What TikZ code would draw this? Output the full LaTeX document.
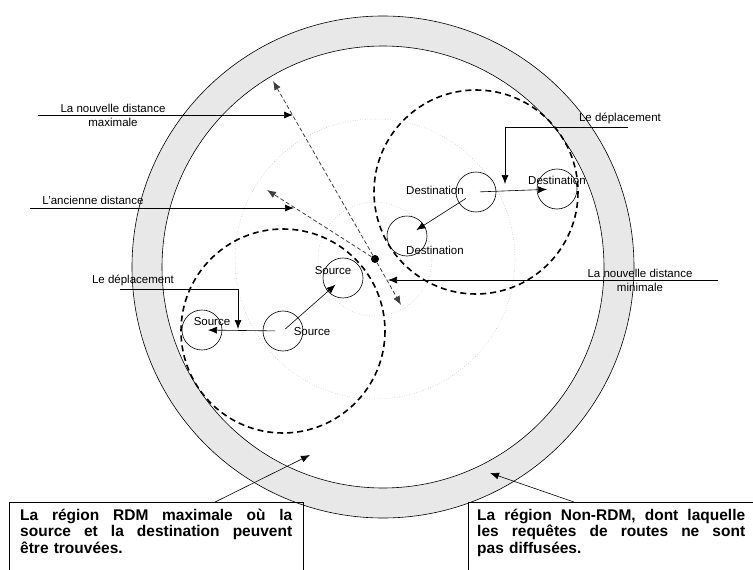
\documentclass[tikz,border=0pt]{standalone}
\usepackage{fontspec}
\setmainfont{Liberation Sans}
\usetikzlibrary{arrows.meta, calc}

\begin{document}
\begin{tikzpicture}[x=1pt, y=-1pt, >={Latex[length=9pt, width=7pt]},
        lbl/.style={font=\fontsize{11.5}{14}\selectfont, align=center, inner sep=0pt},
        site/.style={circle, draw, line width=0.6pt, minimum size=40pt, inner sep=0pt},
        dot/.style={circle, fill=black, minimum size=8pt, inner sep=0pt},
        reach/.style={line width=1.6pt, dash pattern=on 6pt off 4pt},
        halo/.style={draw=gray!60, line width=0.5pt, dotted},
        gap/.style={draw=black!75, line width=0.8pt, dash pattern=on 4pt off 2.5pt},
        note/.style={anchor=north west, text width=272pt, align=left, inner xsep=11pt, inner ysep=6.5pt,
            font=\fontsize{15.5}{16.7}\selectfont\bfseries}]
        \useasboundingbox (0,0) rectangle (753,570);

        \coordinate (hub) at (383,267);
        \draw[fill=gray!18, line width=0.6pt, even odd rule] (hub) circle (251) (hub) circle (221);

        \node (mid) [dot] at (375,259) {};
        \draw[halo] (mid) circle (57);
        \draw[halo] (mid) circle (140);

        \node (src) [site] at (283,331) {};
        \node (srcA) [site] at (202,330) {};
        \node (srcB) [site] at (343,278) {};
        \node (dst) [site] at (476,192) {};
        \node (dstA) [site] at (407,236) {};
        \node (dstB) [site] at (557,189) {};

        \draw[reach] (src) circle (102);
        \draw[reach] (dst) circle (102);

        \node (srcAlbl) [lbl] at (212,322) {Source};
        \node (srclbl) [lbl] at (312,332) {Source};
        \node (srcBlbl) [lbl] at (333,271) {Source};
        \node (dstlbl) [lbl] at (435,190) {Destination};
        \node (dstAlbl) [lbl] at (435,250) {Destination};
        \node (dstBlbl) [lbl] at (557,180) {Destination};

        \draw[->, line width=0.6pt, shorten <=3pt, shorten >=10pt] (src.center) -- (srcB.center);
        \draw[->, line width=0.6pt, shorten <=8pt, shorten >=6pt] (src.center) -- (srcA.center);
        \draw[->, line width=0.6pt, shorten <=4pt, shorten >=10pt] (dst.center) -- (dstB.center);
        \draw[->, line width=0.6pt, shorten <=12pt, shorten >=11pt] (dst.center) -- (dstA.center);

        \coordinate (maxtip) at (273,81);
        \coordinate (mintip) at (401,305);
        \coordinate (oldtip) at (267,190);
        \draw[gap, ->] (mid) -- (maxtip);
        \draw[gap, ->] (mid) -- (mintip);
        \draw[gap, ->] (mid) -- (oldtip);

        \node (maxlbl) [lbl] at (113,115) {La nouvelle distance\\maximale};
        \coordinate (maxfrom) at (38,115);
        \coordinate (maxto) at (293,115);
        \draw[->, line width=0.7pt] (maxfrom) -- (maxto);

        \node (oldlbl) [lbl, anchor=south] at (93,205) {L'ancienne distance};
        \coordinate (oldfrom) at (30,208);
        \coordinate (oldto) at (294,208);
        \draw[->, line width=0.7pt] (oldfrom) -- (oldto);

        \node (minlbl) [lbl] at (640,280) {La nouvelle distance\\minimale};
        \coordinate (minfrom) at (718,280);
        \coordinate (minto) at (388,280);
        \draw[->, line width=0.7pt] (minfrom) -- (minto);

        \node (movedst) [lbl, anchor=south] at (620,124) {Le déplacement};
        \coordinate (movedstfrom) at (628,127);
        \coordinate (movedstto) at (505,184);
        \draw[->, line width=0.7pt] (movedstfrom) -| (movedstto);

        \node (movesrc) [lbl, anchor=south] at (133,286) {Le déplacement};
        \coordinate (movesrcfrom) at (120,289);
        \coordinate (movesrcto) at (238,329);
        \draw[->, line width=0.7pt] (movesrcfrom) -| (movesrcto);

        \node (rdm) [note] at (9,502) {\makebox[272pt][s]{La\hfill région\hfill RDM\hfill maximale\hfill où\hfill la}\\
            \makebox[272pt][s]{source\hfill et\hfill la\hfill destination\hfill peuvent}\\être trouvées.};
        \draw[line width=0.7pt] ([yshift=-15pt]rdm.south west) -- (rdm.north west) -- (rdm.north east) -- ([yshift=-15pt]rdm.south east);
        \coordinate (rdmtip) at (310,455);
        \draw[->, line width=0.6pt] ($(rdm.north west)!0.7!(rdm.north east)$) -- (rdmtip);

        \node (nonrdm) [note, text width=268pt, inner xsep=9pt] at (468,502) {\makebox[268pt][s]{La\hfill région\hfill Non-RDM,\hfill dont\hfill laquelle}\\
            \makebox[268pt][s]{les\hfill requêtes\hfill de\hfill routes\hfill ne\hfill sont}\\pas diffusées.};
        \draw[line width=0.7pt] ([yshift=-15pt]nonrdm.south west) -- (nonrdm.north west) -- (nonrdm.north east) -- ([yshift=-15pt]nonrdm.south east);
        \coordinate (nonrdmtip) at (490,473);
        \draw[->, line width=0.6pt] ($(nonrdm.north west)!0.37!(nonrdm.north east)$) -- (nonrdmtip);
\end{tikzpicture}
\end{document}
